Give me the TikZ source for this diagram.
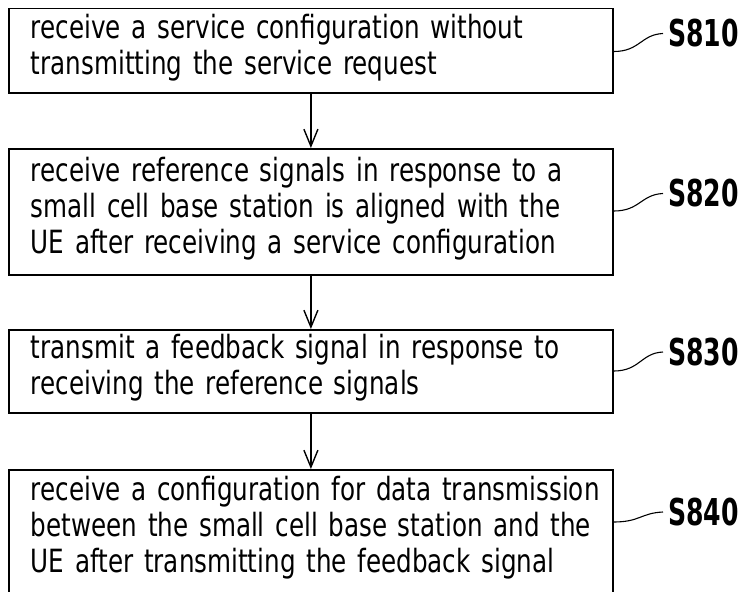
\documentclass[tikz,border=0pt]{standalone}
\usepackage{fontspec}
\setmainfont{DejaVu Sans}[FakeStretch=0.77, WordSpace=1.8]
\newfontfamily\tagfont{DejaVu Sans}[FakeStretch=0.68]
\usetikzlibrary{arrows.meta}

\begin{document}
\begin{tikzpicture}[x=1pt, y=1pt,
  stepbox/.style={draw, line width=1.8pt, anchor=north west,
    minimum width=604pt, text width=584pt, inner xsep=10pt, inner ysep=0pt,
    align=left, font=\fontsize{32}{36}\selectfont,
    execute at begin node={\leftskip=12pt\hyphenpenalty=10000\relax}},
  lift/.style={execute at end node={\rule[-#1]{0pt}{#1}}},
  flow/.style={line width=1.4pt,
    -{Straight Barb[length=17pt, width=14pt, line width=1.4pt]}},
  leader/.style={line width=1.1pt},
  tag/.style={anchor=west, inner sep=0pt,
    font=\tagfont\bfseries\fontsize{37}{37}\selectfont}]

\useasboundingbox (0,0) rectangle (745,-592);
\clip (0,0) rectangle (745,-592);

% process steps
\node[stepbox, lift=13.5pt, minimum height=84.5pt] (s1) at (8,-7.5)
  {receive a service configuration without\\
   transmitting the service request};
\node[stepbox, lift=13.5pt, minimum height=126pt] (s2) at (8,-148)
  {receive reference signals in response to a\\
   small cell base station is aligned with the\\
   UE after receiving a service configuration};
\node[stepbox, lift=13.5pt, minimum height=83pt] (s3) at (8,-329)
  {transmit a feedback signal in response to\\
   receiving the reference signals};
\node[stepbox, lift=21pt, minimum height=130pt] (s4) at (8,-469)
  {receive a configuration for data transmission\\
   between the small cell base station and the\\
   UE after transmitting the feedback signal};

% flow between steps
\draw[flow] (s1.south) -- (s2.north);
\draw[flow] (s2.south) -- (s3.north);
\draw[flow] (s3.south) -- (s4.north);

% step labels
\node[tag] (t1) at (668,-33.5) {S810};
\node[tag] (t2) at (668,-193.5) {S820};
\node[tag] (t3) at (668,-352) {S830};
\node[tag] (t4) at (668,-512) {S840};

% leader lines from steps to labels
\draw[leader] ([yshift=-44pt]s1.north east)
  .. controls +(26,0) and +(-22,-1) .. ([xshift=-5pt]t1.west);
\draw[leader] ([yshift=-63pt]s2.north east)
  .. controls +(26,0) and +(-22,-1) .. ([xshift=-5pt]t2.west);
\draw[leader] ([yshift=-42pt]s3.north east)
  .. controls +(26,0) and +(-22,-1) .. ([xshift=-5pt]t3.west);
\draw[leader] ([yshift=-53pt]s4.north east)
  .. controls +(26,0) and +(-22,-1) .. ([xshift=-5pt]t4.west);
\end{tikzpicture}
\end{document}
